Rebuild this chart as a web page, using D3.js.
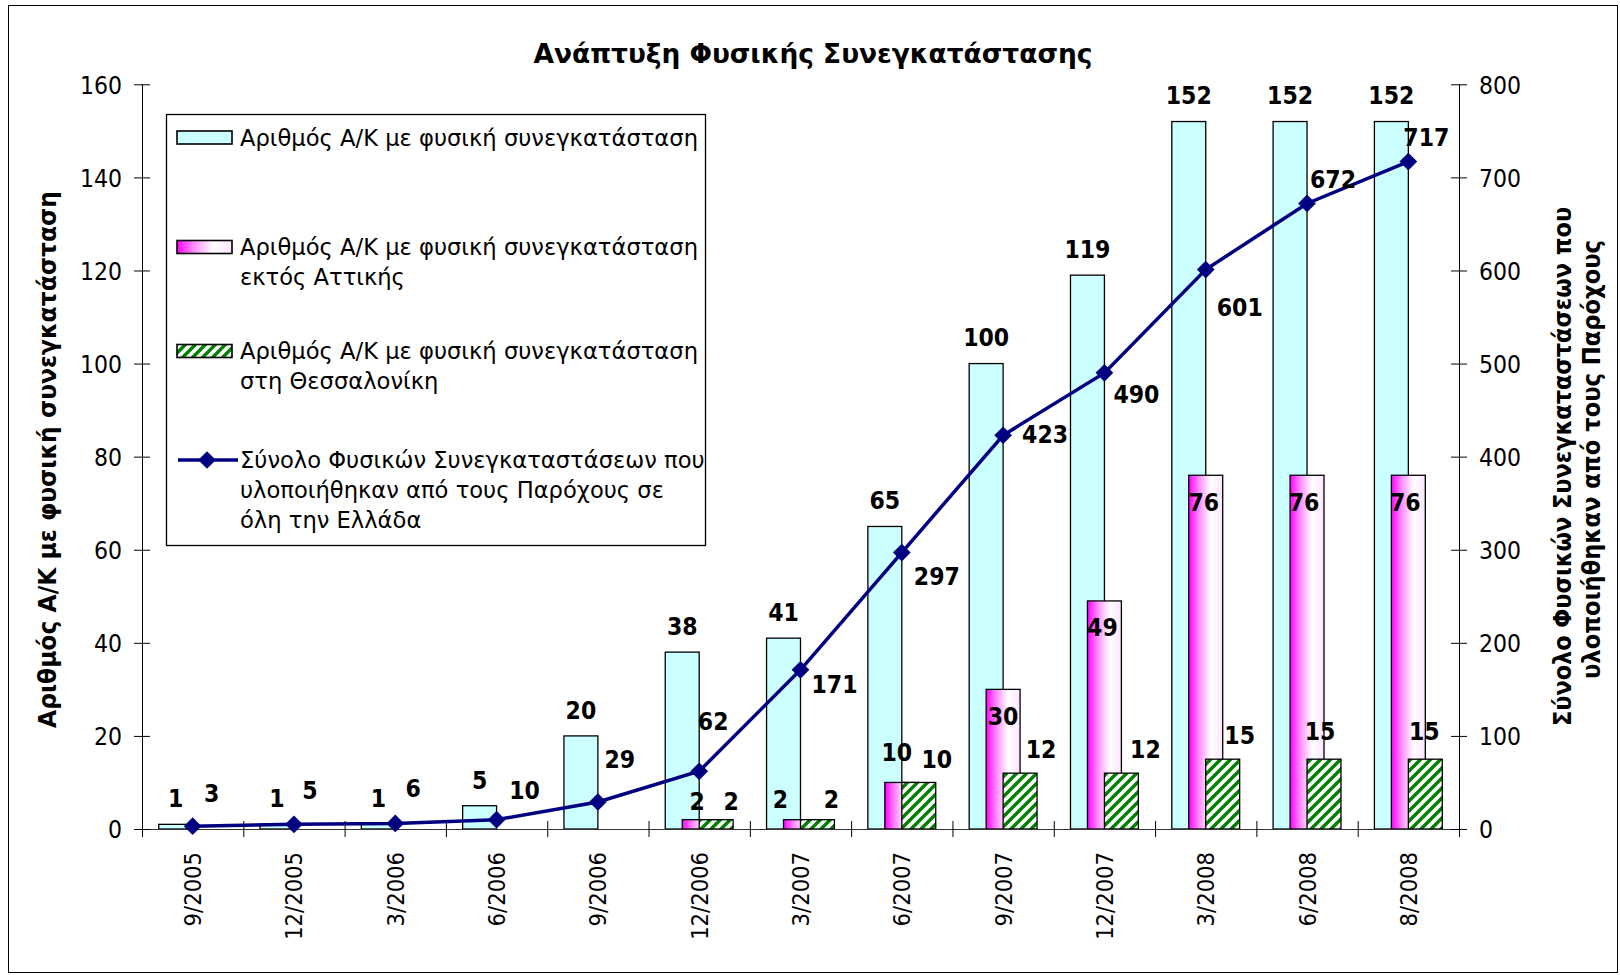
<!DOCTYPE html>
<html>
<head>
<meta charset="utf-8">
<script src="https://cdn.jsdelivr.net/npm/d3@7/dist/d3.min.js"></script>
<style>
  html, body { margin: 0; padding: 0; background: #fff; }
  svg text { font-family: "DejaVu Sans Condensed", "DejaVu Sans", Verdana, sans-serif; font-stretch: condensed; }
</style>
</head>
<body>
<svg id="chart" width="1620" height="975"></svg>
<script>
// ---------------- DATA ----------------
const categories = ["9/2005","12/2005","3/2006","6/2006","9/2006","12/2006","3/2007","6/2007","9/2007","12/2007","3/2008","6/2008","8/2008"];
const seriesNames = [
  "Αριθμός Α/Κ με φυσική συνεγκατάσταση",
  "Αριθμός Α/Κ με φυσική συνεγκατάσταση εκτός Αττικής",
  "Αριθμός Α/Κ με φυσική συνεγκατάσταση στη Θεσσαλονίκη",
  "Σύνολο Φυσικών Συνεγκαταστάσεων που υλοποιήθηκαν από τους Παρόχους σε όλη την Ελλάδα"
];
const exchangesTotal     = [1, 1, 1, 5, 20, 38, 41, 65, 100, 119, 152, 152, 152];
const exchangesOutAttica = [null, null, null, null, null, 2, 2, 10, 30, 49, 76, 76, 76];
const exchangesThess     = [null, null, null, null, null, 2, 2, 10, 12, 12, 15, 15, 15];
const colocationsTotal   = [3, 5, 6, 10, 29, 62, 171, 297, 423, 490, 601, 672, 717];
const leftTicks  = [0, 20, 40, 60, 80, 100, 120, 140, 160];
const rightTicks = [0, 100, 200, 300, 400, 500, 600, 700, 800];
const chartTitle = "Ανάπτυξη Φυσικής Συνεγκατάστασης";
const leftTitle  = "Αριθμός Α/Κ με φυσική συνεγκατάσταση";
const rightTitleLines = ["Σύνολο Φυσικών Συνεγκαταστάσεων που", "υλοποιήθηκαν από τους Παρόχους"];
const legendLines = [
  ["Αριθμός Α/Κ με φυσική συνεγκατάσταση"],
  ["Αριθμός Α/Κ με φυσική συνεγκατάσταση", "εκτός Αττικής"],
  ["Αριθμός Α/Κ με φυσική συνεγκατάσταση", "στη Θεσσαλονίκη"],
  ["Σύνολο Φυσικών Συνεγκαταστάσεων που", "υλοποιήθηκαν από τους Παρόχους σε", "όλη την Ελλάδα"]
];

// label nudges (pixel offsets of each data label from its anchor, as in the original)
const lineLabelNudge  = [[19,-33],[16,-34],[18,-35],[28,-30],[22,-43],[14,-50],[34,14],[35,24],[42,-1],[32,21],[34,38],[26,-24],[18,-24]];
const pinkLabelNudge  = [null,null,null,null,null,[-2,-19],[-20,-21],[-5,-30],[0,27],[-2,26],[-2,27],[-3,27],[-3,27]];
const greenLabelNudge = [null,null,null,null,null,[15,-19],[14,-21],[18,-23],[21,-24],[24,-24],[17,-24],[-4,-28],[-1,-28]];

// ---------------- LAYOUT ----------------
const svg = d3.select("#chart");
const plot = { left: 142, right: 1459, top: 84.3, bottom: 829 };

const x = d3.scaleBand().domain(categories).range([plot.left, plot.right]).paddingInner(0).paddingOuter(0);
const xEdges = d3.scaleLinear().domain([0, categories.length]).range([plot.left, plot.right]);
const y = d3.scaleLinear().domain([0, 160]).range([plot.bottom, plot.top]);
const y2 = d3.scaleLinear().domain([0, 800]).range([plot.bottom, plot.top]);
const barW = x.bandwidth() * 0.335;
const cx = c => x(c) + x.bandwidth() / 2;

// defs
const defs = svg.append("defs");
const grad = defs.append("linearGradient").attr("id", "pinkGrad").attr("x1", "0").attr("y1", "0").attr("x2", "1").attr("y2", "0");
grad.append("stop").attr("offset", "0").attr("stop-color", "#ff00ff");
grad.append("stop").attr("offset", "0.3").attr("stop-color", "#ff8cff");
grad.append("stop").attr("offset", "0.65").attr("stop-color", "#ffffff");
grad.append("stop").attr("offset", "1").attr("stop-color", "#ffe4ff");
const pat = defs.append("pattern").attr("id", "greenHatch").attr("patternUnits", "userSpaceOnUse")
  .attr("width", 10).attr("height", 10);
pat.append("rect").attr("width", 10).attr("height", 10).attr("fill", "#fff");
pat.append("path").attr("d", "M-2,2 L2,-2 M0,10 L10,0 M8,12 L12,8")
  .attr("stroke", "#008000").attr("stroke-width", 3.4);

// outer border
svg.append("rect").attr("x", 8.5).attr("y", 5.5).attr("width", 1609).attr("height", 967)
  .attr("fill", "#fff").attr("stroke", "#000").attr("stroke-width", 1);

// title
svg.append("text").attr("x", 813).attr("y", 63).attr("text-anchor", "middle")
  .attr("font-size", 27).attr("font-weight", "bold")
  .attr("textLength", 559).attr("lengthAdjust", "spacingAndGlyphs").text(chartTitle);

// ---------------- BARS ----------------
const gBars = svg.append("g");
gBars.selectAll("rect.total").data(categories).join("rect")
  .attr("x", c => cx(c) - barW).attr("width", barW)
  .attr("y", (c, i) => y(exchangesTotal[i])).attr("height", (c, i) => y(0) - y(exchangesTotal[i]))
  .attr("fill", "#ccffff").attr("stroke", "#000").attr("stroke-width", 1.3);
gBars.selectAll("rect.pink").data(categories.filter((c, i) => exchangesOutAttica[i] != null)).join("rect")
  .attr("x", c => cx(c) - barW / 2).attr("width", barW)
  .attr("y", c => y(exchangesOutAttica[categories.indexOf(c)]))
  .attr("height", c => y(0) - y(exchangesOutAttica[categories.indexOf(c)]))
  .attr("fill", "url(#pinkGrad)").attr("stroke", "#000").attr("stroke-width", 1.3);
gBars.selectAll("rect.green").data(categories.filter((c, i) => exchangesThess[i] != null)).join("rect")
  .attr("x", c => cx(c)).attr("width", barW)
  .attr("y", c => y(exchangesThess[categories.indexOf(c)]))
  .attr("height", c => y(0) - y(exchangesThess[categories.indexOf(c)]))
  .attr("fill", "url(#greenHatch)").attr("stroke", "#000").attr("stroke-width", 1.3);

// ---------------- AXES ----------------
const gx = svg.append("g").attr("transform", `translate(0,${plot.bottom})`)
  .call(d3.axisBottom(xEdges).tickValues(d3.range(categories.length + 1)).tickSize(8).tickFormat(""));
gx.select(".domain").attr("stroke", "#333").attr("d", `M${plot.left - 8},0.5H${plot.right + 8}`);
gx.selectAll(".tick line").attr("y1", -8).attr("y2", 8).attr("stroke", "#000");

const gxl = svg.append("g").attr("transform", `translate(0,${plot.bottom})`)
  .call(d3.axisBottom(x).tickSize(0));
gxl.select(".domain").remove();
gxl.selectAll(".tick text")
  .attr("transform", "rotate(-90)").attr("x", -23).attr("y", 0).attr("dy", "0.36em")
  .attr("text-anchor", "end").attr("font-size", 23.5).attr("fill", "#000");

const gl = svg.append("g").attr("transform", `translate(${plot.left},0)`)
  .call(d3.axisLeft(y).tickValues(leftTicks).tickSize(8));
gl.select(".domain").attr("stroke", "#000").attr("d", `M0.5,${plot.top}V${plot.bottom}`);
gl.selectAll(".tick line").attr("x1", -8).attr("x2", 8).attr("stroke", "#000");
gl.selectAll(".tick text").attr("x", -20).attr("font-size", 24.5).attr("fill", "#000").attr("dy", "0.36em");

const gr = svg.append("g").attr("transform", `translate(${plot.right},0)`)
  .call(d3.axisRight(y2).tickValues(rightTicks).tickSize(8));
gr.select(".domain").attr("stroke", "#000").attr("d", `M0.5,${plot.top}V${plot.bottom}`);
gr.selectAll(".tick line").attr("x1", -8).attr("x2", 8).attr("stroke", "#000");
gr.selectAll(".tick text").attr("x", 20).attr("font-size", 24.5).attr("fill", "#000").attr("dy", "0.36em");

// axis titles
svg.append("text").attr("transform", "translate(47,459.5) rotate(-90)").attr("dy", "0.36em")
  .attr("text-anchor", "middle").attr("font-size", 24).attr("font-weight", "bold")
  .attr("textLength", 537).attr("lengthAdjust", "spacingAndGlyphs").text(leftTitle);
const rtX = [1562, 1591], rtY = [466.5, 459.5], rtLen = [519, 439];
rightTitleLines.forEach((t, k) => {
  svg.append("text").attr("transform", `translate(${rtX[k]},${rtY[k]}) rotate(-90)`).attr("dy", "0.36em")
    .attr("text-anchor", "middle").attr("font-size", 24).attr("font-weight", "bold")
    .attr("textLength", rtLen[k]).attr("lengthAdjust", "spacingAndGlyphs").text(t);
});

// ---------------- LINE ----------------
const line = d3.line().x((d, i) => cx(categories[i])).y(d => y2(d));
svg.append("path").datum(colocationsTotal).attr("d", line)
  .attr("fill", "none").attr("stroke", "#000080").attr("stroke-width", 3.5);
const diamond = d3.symbol().type(d3.symbolDiamond2).size(200);
svg.selectAll("path.mk").data(colocationsTotal).join("path")
  .attr("transform", (d, i) => `translate(${cx(categories[i])},${y2(d)})`)
  .attr("d", diamond).attr("fill", "#000080");

// ---------------- DATA LABELS ----------------
const gLab = svg.append("g").attr("font-size", 24.5).attr("font-weight", "bold").attr("text-anchor", "middle");
exchangesTotal.forEach((v, i) => {
  gLab.append("text").attr("x", cx(categories[i]) - barW / 2).attr("y", y(v) - 26).attr("dy", "0.36em").text(v);
});
exchangesOutAttica.forEach((v, i) => {
  if (v == null) return;
  const n = pinkLabelNudge[i];
  gLab.append("text").attr("x", cx(categories[i]) + n[0]).attr("y", y(v) + n[1]).attr("dy", "0.36em").text(v);
});
exchangesThess.forEach((v, i) => {
  if (v == null) return;
  const n = greenLabelNudge[i];
  gLab.append("text").attr("x", cx(categories[i]) + barW / 2 + n[0]).attr("y", y(v) + n[1]).attr("dy", "0.36em").text(v);
});
colocationsTotal.forEach((v, i) => {
  const n = lineLabelNudge[i];
  gLab.append("text").attr("x", cx(categories[i]) + n[0]).attr("y", y2(v) + n[1]).attr("dy", "0.36em").text(v);
});

// ---------------- LEGEND ----------------
const lg = svg.append("g");
lg.append("rect").attr("x", 166.5).attr("y", 114.5).attr("width", 539).attr("height", 431)
  .attr("fill", "#fff").attr("stroke", "#000").attr("stroke-width", 1.3);
const entryY = [137.5, 247, 351, 460];
const lineGap = 30;
const fills = ["#ccffff", "url(#pinkGrad)", "url(#greenHatch)"];
legendLines.forEach((lines, k) => {
  if (k < 3) {
    lg.append("rect").attr("x", 177).attr("y", entryY[k] - 6.5).attr("width", 55).attr("height", 13)
      .attr("fill", fills[k]).attr("stroke", "#000").attr("stroke-width", 1.6);
  } else {
    lg.append("line").attr("x1", 178).attr("x2", 238).attr("y1", entryY[k]).attr("y2", entryY[k])
      .attr("stroke", "#000080").attr("stroke-width", 3.5);
    lg.append("path").attr("transform", `translate(207,${entryY[k]})`).attr("d", diamond).attr("fill", "#000080");
  }
  lines.forEach((t, j) => {
    lg.append("text").attr("class", "legtxt").attr("x", 240).attr("y", entryY[k] + j * lineGap).attr("dy", "0.36em")
      .attr("font-size", 23.5).text(t);
  });
});
// fit legend text width to the original proportions
const legTexts = lg.selectAll("text.legtxt").nodes();
const ref = legTexts[0].getComputedTextLength();
const sx = 458 / ref;
legTexts.forEach(n => {
  const w = n.getComputedTextLength();
  n.setAttribute("textLength", (w * sx).toFixed(1));
  n.setAttribute("lengthAdjust", "spacingAndGlyphs");
});
</script>
</body>
</html>
